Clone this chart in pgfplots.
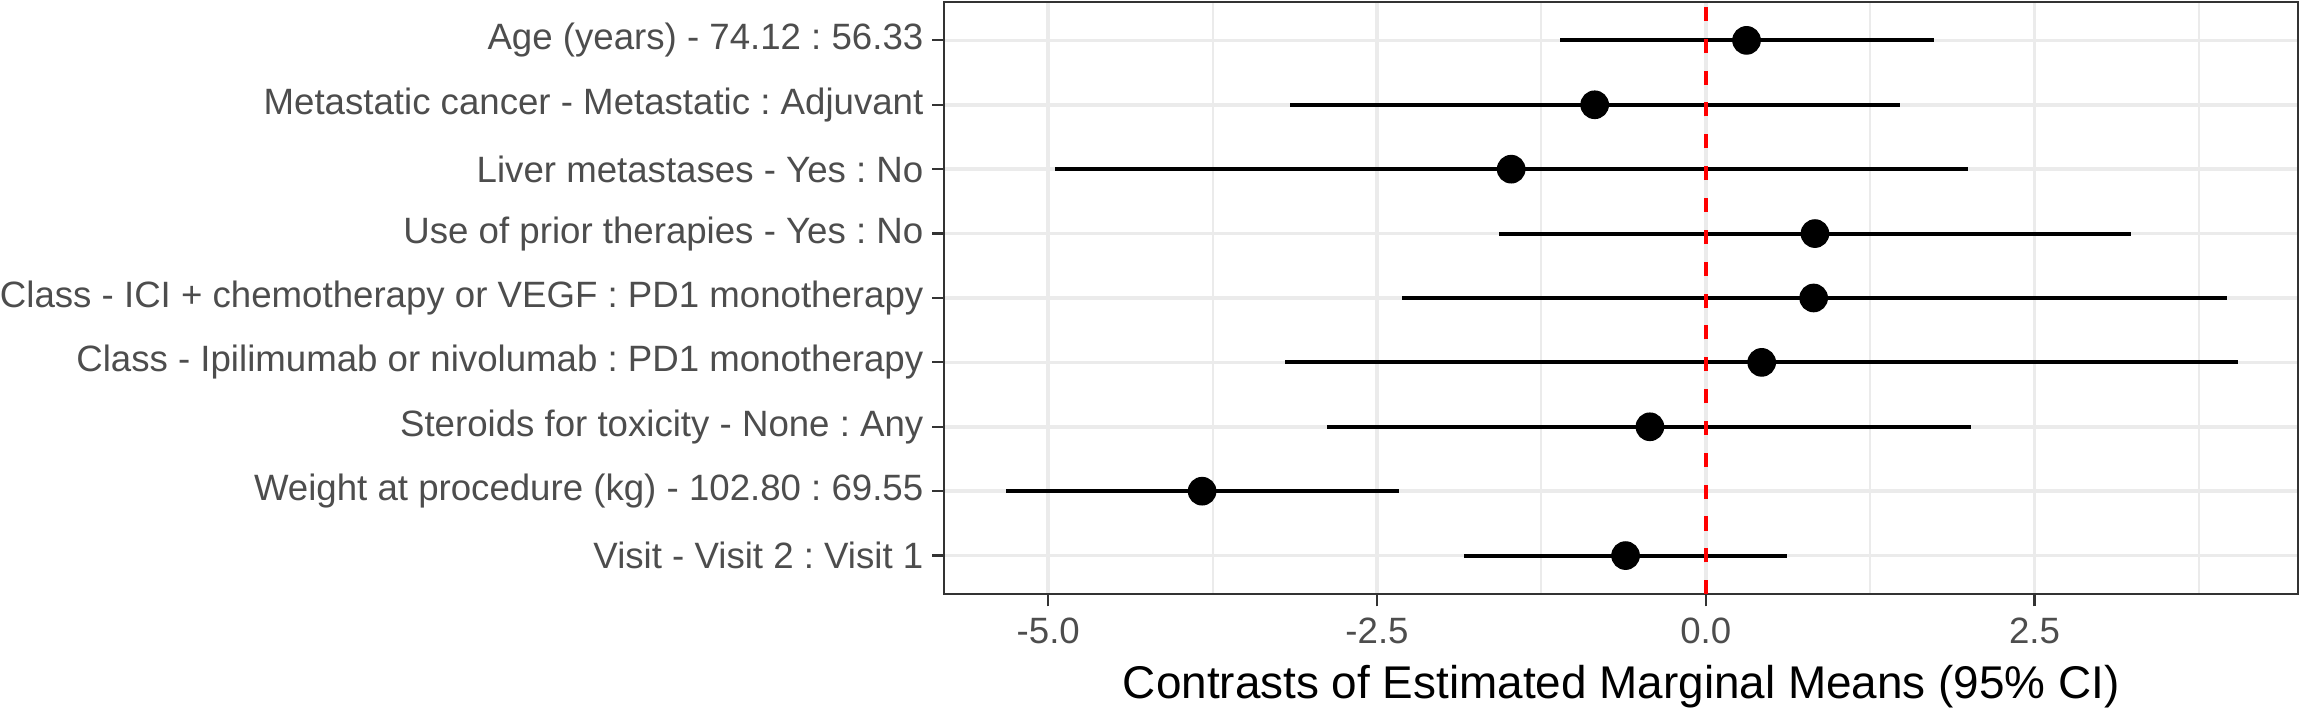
\documentclass[border=0pt]{standalone}
\usepackage{pgfplots}
\pgfplotsset{compat=1.18}
\usepackage{pgfplotstable}
\usepackage{fontspec}
\setmainfont{Liberation Sans}
\frenchspacing
\definecolor{gridgray}{HTML}{EBEBEB}
\definecolor{framegray}{HTML}{333333}
\definecolor{labelgray}{HTML}{4D4D4D}

% row 9 = top (Age), row 1 = bottom (Visit)
\pgfplotstableread{
row lo est hi
9 -1.11 0.31 1.735
8 -3.16 -0.845 1.48
7 -4.95 -1.48 1.99
6 -1.575 0.83 3.23
5 -2.31 0.82 3.96
4 -3.20 0.425 4.05
3 -2.88 -0.425 2.02
2 -5.32 -3.83 -2.33
1 -1.84 -0.61 0.62
}\contrasts

\begin{document}
\begin{tikzpicture}
\begin{axis}[
  scale only axis, width=425pt, height=186pt,
  xmin=-5.79, xmax=4.505, ymin=0.4, ymax=9.6,
  xtick={-5,-2.5,0,2.5}, xticklabels={-5.0,-2.5,0.0,2.5},
  minor xtick={-3.75,-1.25,1.25,3.75},
  ytick={1,...,9},
  yticklabels={Visit - Visit 2 : Visit 1,
    Weight at procedure (kg) - 102.80 : 69.55,
    Steroids for toxicity - None : Any,
    Class - Ipilimumab or nivolumab : PD1 monotherapy,
    Class - ICI + chemotherapy or VEGF : PD1 monotherapy,
    Use of prior therapies - Yes : No,
    Liver metastases - Yes : No,
    Metastatic cancer - Metastatic : Adjuvant,
    Age (years) - 74.12 : 56.33},
  xtick pos=bottom, ytick pos=left,
  xmajorgrids, xminorgrids, ymajorgrids,
  major grid style={gridgray, line width=1.1pt},
  minor grid style={gridgray, line width=0.6pt},
  tick align=outside, major tick length=3.8pt, minor tick length=0pt,
  tick style={framegray, line width=0.7pt},
  axis line style={framegray, line width=0.7pt},
  ticklabel style={font=\fontsize{11.5}{13.5}\selectfont, text=labelgray},
  yticklabel style={inner xsep=0pt, xshift=-2.6pt},
  xlabel={Contrasts of Estimated Marginal Means (95\% CI)},
  xlabel style={font=\fontsize{14.4}{16}\selectfont},
]
\addplot[black, only marks, mark=*, mark size=4.3pt,
  error bars/.cd, x dir=both, x explicit, error mark=none,
  error bar style={line width=1.25pt, black}]
  table[x=est, y=row,
    x error plus expr=\thisrow{hi}-\thisrow{est},
    x error minus expr=\thisrow{est}-\thisrow{lo}] {\contrasts};
\addplot[red, line width=1.1pt, dash pattern=on 4.4pt off 5.6pt]
  coordinates {(0,0.4) (0,9.6)};
\end{axis}
\end{tikzpicture}
\end{document}
